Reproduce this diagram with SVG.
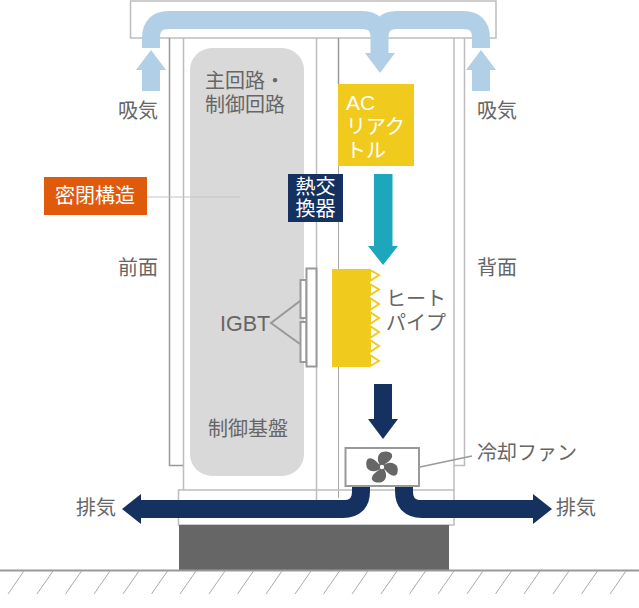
<svg xmlns="http://www.w3.org/2000/svg" width="639" height="608" viewBox="0 0 639 608">
<style>
text{font-family:"Noto Sans CJK JP","Noto Sans",sans-serif;font-size:20px;fill:#666}
.w{fill:#fff}
.f{fill:none;stroke:#bdbdbd;stroke-width:1.5}
.d{fill:none;stroke:#999;stroke-width:1.5}
.h{fill:#fff;stroke:#999;stroke-width:2}
.g{fill:none;stroke:#aaa;stroke-width:1}
.fin{fill:#fff;stroke:#f0cb1e;stroke-width:2}
.duct{fill:none;stroke:#b1cfe6;stroke-width:18}
.navy{fill:none;stroke:#14315f;stroke-width:18}
</style>
<g id="frame">
<rect x="130.5" y="1" width="365.5" height="37" fill="#fff" stroke="#bdbdbd" stroke-width="1.5"/>
<path class="d" d="M169.5 38V465.500H183.500"/>
<path class="f" d="M183.500 38V490M316.500 38V500M454 38V490M454 456V465.500H464.500V38"/>
<path class="d" d="M338.500 38V84"/>
<path class="g" d="M338.500 166V498"/>
<rect x="178.500" y="490" width="275.500" height="35" fill="none" stroke="#bdbdbd" stroke-width="1.5"/>
<rect x="179" y="525" width="270" height="46" fill="#666"/>
</g>
<g id="ground">
<path d="M0 570.500H639" stroke="#999" stroke-width="2" fill="none"/>
<path fill="none" stroke="#aaa" stroke-width="1" d="M24 571L8 594M53 571L37 594M81.500 571L65.500 594M110 571L94 594M139 571L123 594M167.500 571L151.500 594M196 571L180 594M225 571L209 594M253.500 571L237.500 594M282 571L266 594M311 571L295 594M339.500 571L323.500 594M368 571L352 594M397 571L381 594M425.500 571L409.500 594M454 571L438 594M483 571L467 594M511.500 571L495.500 594M540 571L524 594M569 571L553 594M597.500 571L581.500 594M626 571L610 594"/>
</g>
<g id="circuit">
<rect x="190" y="48" width="114" height="428" rx="22" fill="#d9d9d9"/>
<text x="205" y="88">主回路・<tspan x="205" y="112">制御回路</tspan></text>
<text x="208" y="436">制御基盤</text>
</g>
<g id="connectors">
<path d="M147 197H240" stroke="#c4c4c4" stroke-width="1" fill="none"/>
<path d="M420 467L472 456" stroke="#999" stroke-width="1.500" fill="none"/>
<path class="duct" d="M151 48V38Q151 20 169 20H362Q379.500 20 379.500 38V55M379.500 38Q379.500 20 397 20H463Q481 20 481 38V48"/>
<path d="M365 53H395L380 73Z" fill="#b1cfe6"/>
<path d="M151 50L166 70H160V91H142V70H136Z" fill="#b1cfe6"/>
<path d="M481 50L496 70H490V91H472V70H466Z" fill="#b1cfe6"/>
<path d="M374 174H392.500V246H398L383 265L368 246H374Z" fill="#1da7bd"/>
<path d="M374 384H392V419H398L383 439L368 419H374Z" fill="#14315f"/>
<path class="navy" d="M361 486V491Q361 509 343 509H140"/>
<path d="M122 509L141 494V524Z" fill="#14315f"/>
<path class="navy" d="M404 486V491Q404 509 422 509H535"/>
<path d="M552 509L533 494V524Z" fill="#14315f"/>
</g>
<g id="igbt">
<rect class="h" x="300.500" y="280" width="6" height="38"/>
<rect class="h" x="300.500" y="322" width="6" height="40"/>
<rect class="h" x="306.500" y="268.500" width="10" height="98"/>
<path d="M300 301L271 323L300 344" fill="none" stroke="#999" stroke-width="2"/>
<text x="220" y="331" style="font-family:'Liberation Sans',sans-serif;font-size:21.500px">IGBT</text>
</g>
<g id="ac-reactor">
<rect x="338" y="84" width="76" height="82" fill="#f0cb1e"/>
<text class="w" x="346" y="110" style="font-family:'Liberation Sans',sans-serif;font-size:21px">AC</text>
<text class="w" x="346" y="134">リアク<tspan x="346" y="158">トル</tspan></text>
</g>
<g id="heat-exchanger">
<rect x="288" y="174" width="55" height="48" fill="#14315f"/>
<text class="w" x="295.500" y="194">熱交<tspan x="295.500" y="216">換器</tspan></text>
</g>
<g id="heat-pipe">
<path class="fin" d="M370 270L379 275L370 281ZM370 284L379 289.500L370 295ZM370 298L379 304L370 310ZM370 312L379 318L370 324ZM370 326L379 332L370 338ZM370 340L379 346L370 352ZM370 355L379 361L370 366Z"/>
<rect x="332" y="269" width="38" height="98" fill="#f0cb1e"/>
<text x="386" y="306">ヒート<tspan x="386" y="330">パイプ</tspan></text>
</g>
<g id="fan">
<rect x="345.500" y="448" width="73.500" height="38" fill="#fff" stroke="#999" stroke-width="2"/>
<g fill="#666">
<path d="M382 467C376 462 377 454 382 452C388 450 395 453 391 459C388 463 385 463 382 467Z"/>
<path d="M382 467C387 461 394 462 397 466C399 472 397 478 391 475C387 473 386 470 382 467Z"/>
<path d="M382 467C388 472 387 480 382 482C376 484 369 481 373 475C376 471 379 471 382 467Z"/>
<path d="M382 467C377 473 370 472 367 468C365 462 367 456 373 459C377 461 378 464 382 467Z"/>
</g>
<circle cx="382" cy="467" r="2.800" fill="#fff" stroke="#666" stroke-width="1.200"/>
</g>
<g id="sealed">
<rect x="44" y="177" width="103" height="38" fill="#e05a0c"/>
<text class="w" x="55" y="203">密閉構造</text>
</g>
<g id="labels">
<text x="118" y="118">吸気</text>
<text x="477" y="118">吸気</text>
<text x="118" y="275">前面</text>
<text x="477" y="275">背面</text>
<text x="477" y="460">冷却ファン</text>
<text x="76" y="515">排気</text>
<text x="556" y="515">排気</text>
</g>
</svg>
